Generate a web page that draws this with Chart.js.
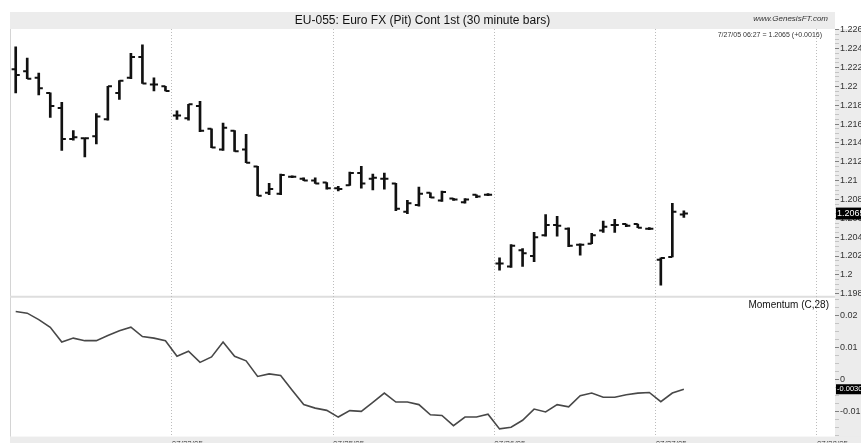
<!DOCTYPE html>
<html>
<head>
<meta charset="utf-8">
<title>EU-055: Euro FX (Pit) Cont 1st (30 minute bars)</title>
<script src="https://cdn.jsdelivr.net/npm/chart.js@4.4.1/dist/chart.umd.min.js"></script>
<style>
  html, body { margin: 0; padding: 0; background: #fff; }
  canvas { display: block; }
</style>
</head>
<body>
<canvas id="eu055" width="861" height="443"></canvas>
<script>
// Euro FX pit session, 30 minute bars 07/21/05 - 07/27/05
const dateLabels = ['07/22/05', '07/25/05', '07/26/05', '07/27/05', '07/28/05'];
const barsPerDay = 14;

const opens = [
  1.2218, 1.2216, 1.2209, 1.2193, 1.2177, 1.2144, 1.2145, 1.2147, 1.2165, 1.2193, 1.2209, 1.2231, 1.2202, 1.2200,
  1.2169, 1.2166, 1.2179, 1.2155, 1.2133, 1.2153, 1.2133, 1.2115, 1.2087, 1.2086, 1.2104, 1.2102, 1.2100, 1.2098,
  1.2092, 1.2095, 1.2108, 1.2102, 1.2102, 1.2097, 1.2067, 1.2074, 1.2087, 1.2079, 1.2081, 1.2077, 1.2085, 1.2085,
  1.2012, 1.2009, 1.2026, 1.2020, 1.2042, 1.2053, 1.2049, 1.2032, 1.2033, 1.2047, 1.2053, 1.2054, 1.2054, 1.2049,
  1.2016, 1.2019, 1.2064
];
const highs = [
  1.2242, 1.2230, 1.2214, 1.2193, 1.2183, 1.2153, 1.2145, 1.2171, 1.2200, 1.2206, 1.2235, 1.2244, 1.2209, 1.2200,
  1.2174, 1.2181, 1.2184, 1.2155, 1.2161, 1.2153, 1.2149, 1.2115, 1.2097, 1.2107, 1.2105, 1.2103, 1.2103, 1.2098,
  1.2094, 1.2109, 1.2115, 1.2107, 1.2108, 1.2097, 1.2079, 1.2093, 1.2087, 1.2089, 1.2081, 1.2081, 1.2085, 1.2086,
  1.2018, 1.2032, 1.2028, 1.2045, 1.2064, 1.2062, 1.2050, 1.2033, 1.2044, 1.2057, 1.2059, 1.2054, 1.2054, 1.2050,
  1.2018, 1.2076, 1.2068
];
const lows = [
  1.2193, 1.2208, 1.2191, 1.2167, 1.2132, 1.2143, 1.2125, 1.2139, 1.2164, 1.2186, 1.2208, 1.2203, 1.2195, 1.2195,
  1.2165, 1.2164, 1.2152, 1.2135, 1.2132, 1.2131, 1.2119, 1.2084, 1.2085, 1.2085, 1.2103, 1.2100, 1.2097, 1.2091,
  1.2089, 1.2095, 1.2092, 1.2090, 1.2091, 1.2068, 1.2065, 1.2073, 1.2082, 1.2078, 1.2079, 1.2076, 1.2082, 1.2084,
  1.2005, 1.2008, 1.2009, 1.2014, 1.2041, 1.2041, 1.2030, 1.2021, 1.2033, 1.2045, 1.2045, 1.2051, 1.2050, 1.2048,
  1.1989, 1.2019, 1.2061
];
const closes = [
  1.2212, 1.2208, 1.2198, 1.2179, 1.2144, 1.2146, 1.2145, 1.2168, 1.2200, 1.2206, 1.2231, 1.2203, 1.2202, 1.2195,
  1.2169, 1.2181, 1.2153, 1.2135, 1.2156, 1.2131, 1.2119, 1.2084, 1.2091, 1.2106, 1.2104, 1.2100, 1.2097, 1.2092,
  1.2091, 1.2108, 1.2097, 1.2103, 1.2102, 1.2070, 1.2076, 1.2086, 1.2082, 1.2088, 1.2080, 1.2080, 1.2083, 1.2085,
  1.2012, 1.2031, 1.2023, 1.2040, 1.2053, 1.2052, 1.2031, 1.2032, 1.2042, 1.2051, 1.2053, 1.2052, 1.2050, 1.2049,
  1.2018, 1.2067, 1.2065
];
// Momentum (C,28)
const momentum = [
  0.0213, 0.0208, 0.0188, 0.0164, 0.0118, 0.0130, 0.0122, 0.0122, 0.0138, 0.0153, 0.0164, 0.0135, 0.0130, 0.0122,
  0.0073, 0.0089, 0.0054, 0.0071, 0.0118, 0.0073, 0.0059, 0.0010, 0.0018, 0.0013, -0.0033, -0.0078, -0.0089, -0.0096,
  -0.0117, -0.0097, -0.0099, -0.0071, -0.0042, -0.0070, -0.0070, -0.0078, -0.0110, -0.0112, -0.0144, -0.0117, -0.0117, -0.0108,
  -0.0154, -0.0149, -0.0127, -0.0092, -0.0101, -0.0078, -0.0085, -0.0050, -0.0042, -0.0055, -0.0055, -0.0047, -0.0042, -0.0040,
  -0.0069, -0.0042, -0.0030
];

const priceTickLabels = ['1.198', '1.2', '1.202', '1.204', '1.206', '1.208', '1.21', '1.212',
                         '1.214', '1.216', '1.218', '1.22', '1.222', '1.224', '1.226'];
const momentumTickLabels = ['-0.01', '0', '0.01', '0.02'];
const lastStamp = '7/27/05 06:27';

const FONT = '"Liberation Sans", Arial, Helvetica, sans-serif';
const TICK_SHIFT = 0.18;          // open/close ticks sit a little left/right of the bar
const barIdx = closes.map((_, i) => i);
const last = closes.length - 1;
const prevDayClose = closes[last - (last % barsPerDay) - 1];

function labelFor(v, labels) {
  const hit = labels.find(l => Math.abs(Number(l) - v) < 1e-9);
  return hit === undefined ? '' : hit;
}

// major ticks from the label list plus unlabeled minor ticks in between
function withMinor(scale, labels, parts) {
  const vals = labels.map(Number);
  const major = vals[1] - vals[0];
  const step = major / parts;
  const from = vals[0] - major, to = vals[vals.length - 1] + major;
  const out = [];
  for (let k = 0; from + k * step <= to + 1e-9; k++) {
    const v = +(from + k * step).toFixed(6);
    if (v >= scale.min - 1e-9 && v <= scale.max + 1e-9) out.push({ value: v });
  }
  scale.ticks = out;
}

const decor = {
  id: 'decor',
  beforeDraw(chart) {
    const { ctx, chartArea: a, width, height } = chart;
    ctx.save();
    ctx.fillStyle = '#fff';
    ctx.fillRect(0, 0, width, height);
    ctx.fillStyle = '#ececec';
    ctx.fillRect(a.left, 12, a.right - a.left, a.top - 12);
    ctx.fillRect(a.right, a.top, width - a.right, height - a.top);
    ctx.fillRect(a.left, a.bottom, width - a.left, height - a.bottom);

    // left border + separator between the panes
    ctx.strokeStyle = '#d4d4d4';
    ctx.lineWidth = 1;
    ctx.beginPath();
    ctx.moveTo(a.left + 0.5, a.top);
    ctx.lineTo(a.left + 0.5, a.bottom);
    ctx.stroke();
    const sep = chart.scales.y.bottom;
    ctx.strokeStyle = '#dedede';
    ctx.lineWidth = 2;
    ctx.beginPath();
    ctx.moveTo(a.left, sep);
    ctx.lineTo(a.right, sep);
    ctx.stroke();

    ctx.fillStyle = '#111';
    ctx.textBaseline = 'middle';
    ctx.textAlign = 'center';
    ctx.font = '12px ' + FONT;
    ctx.fillText('EU-055: Euro FX (Pit) Cont 1st (30 minute bars)', (a.left + a.right) / 2, 20.5);

    ctx.textAlign = 'right';
    ctx.fillStyle = '#333';
    ctx.font = 'italic 8px ' + FONT;
    ctx.fillText('www.GenesisFT.com', a.right - 7, 19);

    ctx.font = '7px ' + FONT;
    const chg = closes[last] - prevDayClose;
    ctx.fillText(lastStamp + ' = ' + closes[last].toFixed(4) + ' (' + (chg >= 0 ? '+' : '') + chg.toFixed(4) + ')',
                 a.right - 13, a.top + 6);

    ctx.fillStyle = '#111';
    ctx.font = '10px ' + FONT;
    ctx.fillText('Momentum (C,28)', a.right - 6, sep + 9);
    ctx.restore();
  },
  afterDraw(chart) {
    const { ctx, chartArea: a, width } = chart;
    ctx.save();
    ctx.textBaseline = 'middle';
    ctx.textAlign = 'left';
    const py = chart.scales.y.getPixelForValue(closes[last]);
    ctx.fillStyle = '#000';
    ctx.fillRect(a.right + 1, py - 6, width - a.right - 1, 12);
    ctx.fillStyle = '#fff';
    ctx.font = '9px ' + FONT;
    ctx.fillText(closes[last].toFixed(4), a.right + 2, py);

    const my = chart.scales.m.getPixelForValue(momentum[last]);
    ctx.fillStyle = '#000';
    ctx.fillRect(a.right + 1, my - 5, width - a.right - 1, 10);
    ctx.fillStyle = '#fff';
    ctx.font = '7.5px ' + FONT;
    ctx.fillText(momentum[last].toFixed(5), a.right + 2, my);
    ctx.restore();
  }
};

const axisFont = { family: FONT, size: 9 };

new Chart(document.getElementById('eu055').getContext('2d'), {
  type: 'line',
  data: {
    datasets: [
      {
        type: 'bar',
        label: 'High-Low',
        data: barIdx.map(i => ({ x: i, y: [lows[i], highs[i]] })),
        yAxisID: 'y',
        backgroundColor: '#111',
        barThickness: 2,
        minBarLength: 2,
        order: 3
      },
      {
        label: 'Open',
        data: barIdx.map(i => ({ x: i - TICK_SHIFT, y: opens[i] })),
        yAxisID: 'y',
        showLine: false,
        pointStyle: 'line',
        pointRadius: 2,
        pointBorderWidth: 2,
        pointBorderColor: '#111',
        order: 2
      },
      {
        label: 'Close',
        data: barIdx.map(i => ({ x: i + TICK_SHIFT, y: closes[i] })),
        yAxisID: 'y',
        showLine: false,
        pointStyle: 'line',
        pointRadius: 2,
        pointBorderWidth: 2,
        pointBorderColor: '#111',
        order: 2
      },
      {
        label: 'Momentum (C,28)',
        data: barIdx.map(i => ({ x: i, y: momentum[i] })),
        yAxisID: 'm',
        borderColor: '#484848',
        borderWidth: 1.6,
        pointRadius: 0,
        tension: 0,
        fill: false,
        order: 1
      }
    ]
  },
  options: {
    responsive: false,
    animation: false,
    events: [],
    layout: { padding: { top: 29, left: 10, right: 0, bottom: 0 } },
    plugins: {
      legend: { display: false },
      tooltip: { enabled: false },
      title: { display: false }
    },
    scales: {
      x: {
        type: 'linear',
        position: 'bottom',
        min: -0.495,
        max: 71.12,
        offset: false,
        afterFit: s => { s.height = 6; },
        afterBuildTicks: s => {
          s.ticks = dateLabels.map((_, d) => ({ value: (d + 1) * barsPerDay - 0.45 }));
        },
        ticks: {
          autoSkip: false,
          maxRotation: 0,
          align: 'start',
          padding: 2,
          color: '#333',
          font: { family: FONT, size: 8 },
          callback: (v, i) => dateLabels[i]
        },
        grid: { color: '#bcbcbc', lineWidth: 1, drawTicks: false, offset: false },
        border: { display: false, dash: [1, 2] }
      },
      y: {
        type: 'linear',
        position: 'right',
        stack: 'panes',
        stackWeight: 268,
        min: 1.19768,
        max: 1.22608,
        afterFit: s => { s.width = 26; },
        afterBuildTicks: s => withMinor(s, priceTickLabels, 4),
        ticks: {
          autoSkip: false,
          padding: 1,
          color: '#333',
          font: axisFont,
          callback: v => labelFor(v, priceTickLabels)
        },
        grid: {
          drawOnChartArea: false,
          tickLength: 4,
          color: c => labelFor(c.tick.value, priceTickLabels) ? '#808080' : '#c4c4c4'
        },
        border: { display: false }
      },
      m: {
        type: 'linear',
        position: 'right',
        stack: 'panes',
        stackWeight: 140,
        min: -0.01781,
        max: 0.02594,
        afterFit: s => { s.width = 26; },
        afterBuildTicks: s => withMinor(s, momentumTickLabels, 4),
        ticks: {
          autoSkip: false,
          padding: 1,
          color: '#333',
          font: axisFont,
          callback: v => labelFor(v, momentumTickLabels)
        },
        grid: {
          drawOnChartArea: false,
          tickLength: 4,
          color: c => labelFor(c.tick.value, momentumTickLabels) ? '#808080' : '#c4c4c4'
        },
        border: { display: false }
      }
    }
  },
  plugins: [decor]
});
</script>
</body>
</html>
